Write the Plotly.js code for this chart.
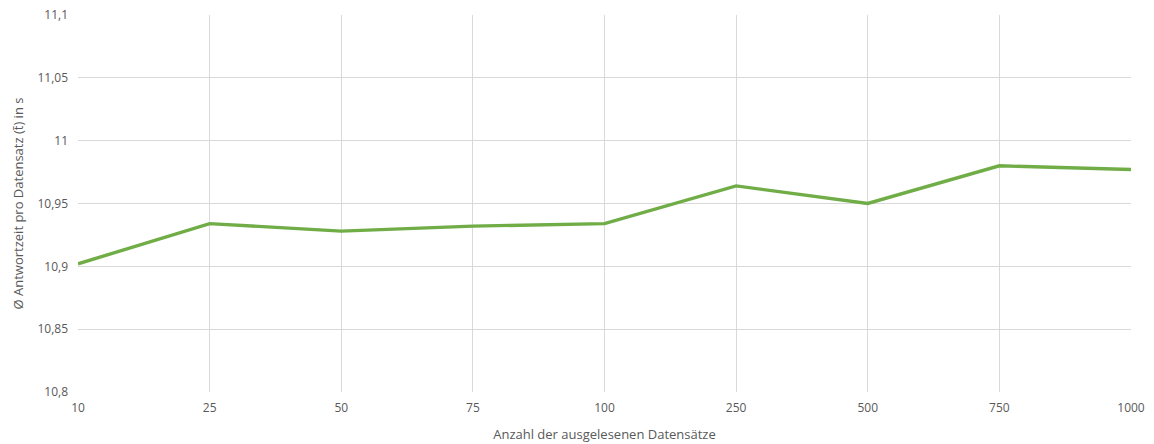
<!DOCTYPE html>
<html>
<head>
<meta charset="utf-8">
<script src="https://cdn.plot.ly/plotly-3.0.1.min.js"></script>
<style>
  html, body { margin: 0; padding: 0; background: #ffffff; }
  #chart { width: 1154px; height: 444px; }
</style>
</head>
<body>
<div id="chart"></div>
<script>
// Anzahl der ausgelesenen Datensätze (Kategorien)
const categories = ['10', '25', '50', '75', '100', '250', '500', '750', '1000'];
// Durchschnittliche Antwortzeit pro Datensatz in Sekunden
const responseTimes = [10.902, 10.934, 10.928, 10.932, 10.934, 10.964, 10.950, 10.980, 10.977];
// Y-Achse: Werte und deutsche Beschriftung
const yTickValues = [10.8, 10.85, 10.9, 10.95, 11, 11.05, 11.1];
const yTickLabels = ['10,8', '10,85', '10,9', '10,95', '11', '11,05', '11,1'];

const fontFamily = '"Open Sans", "Noto Sans", sans-serif';
const textColor = '#595959';
const gridColor = '#d9d9d9';

const trace = {
  type: 'scatter',
  mode: 'lines',
  x: categories,
  y: responseTimes,
  line: { color: '#70ad47', width: 3.4 },
  hoverinfo: 'x+y'
};

const layout = {
  width: 1154,
  height: 444,
  margin: { l: 78, r: 23, t: 15, b: 52 },
  paper_bgcolor: '#ffffff',
  plot_bgcolor: '#ffffff',
  showlegend: false,
  font: { family: fontFamily, size: 12, color: textColor },
  xaxis: {
    type: 'category',
    range: [0, categories.length - 1],
    showgrid: true,
    gridcolor: gridColor,
    gridwidth: 1,
    zeroline: false,
    showline: false,
    ticks: '',
    ticklabelstandoff: 7,
    tickfont: { family: fontFamily, size: 12, color: textColor },
    title: {
      text: 'Anzahl der ausgelesenen Datensätze',
      font: { family: fontFamily, size: 13, color: textColor },
      standoff: 14
    },
    automargin: false
  },
  yaxis: {
    range: [10.8, 11.1],
    tickmode: 'array',
    tickvals: yTickValues,
    ticktext: yTickLabels,
    showgrid: true,
    gridcolor: gridColor,
    gridwidth: 1,
    zeroline: false,
    showline: false,
    ticks: '',
    ticklabelstandoff: 9,
    tickfont: { family: fontFamily, size: 12, color: textColor },
    title: {
      text: 'Ø Antwortzeit pro Datensatz (t\u0304) in s',
      font: { family: fontFamily, size: 13, color: textColor },
      standoff: 10
    },
    automargin: false
  }
};

Plotly.newPlot('chart', [trace], layout, { displayModeBar: false, staticPlot: true });
</script>
</body>
</html>
